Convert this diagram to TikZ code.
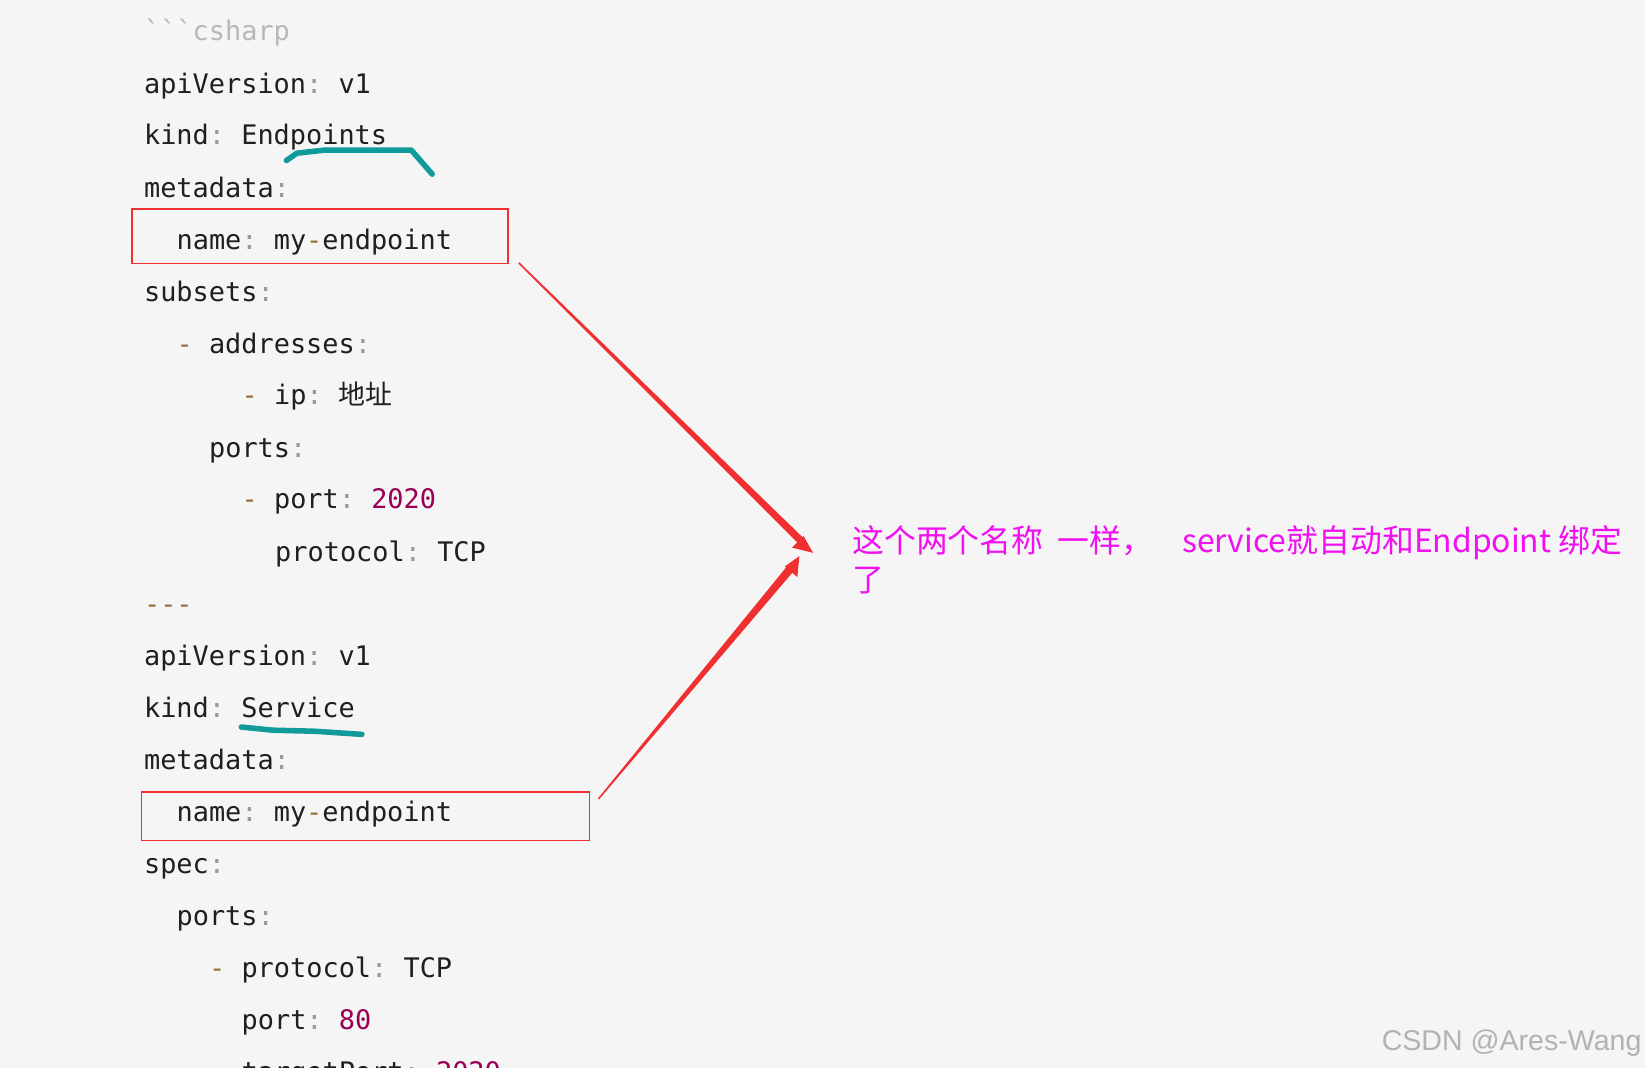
\documentclass[tikz,border=0pt]{standalone}
\usepackage{fontspec}
\setmonofont{DejaVu Sans Mono}
\newfontfamily\cjk{Noto Sans CJK SC}
\newfontfamily\wm{Liberation Sans}
\definecolor{bg}{HTML}{F5F5F5}
\definecolor{tx}{HTML}{1F1F1F}
\definecolor{pu}{HTML}{999999}
\definecolor{da}{HTML}{9A6E3A}
\definecolor{nu}{HTML}{990055}
\definecolor{mg}{HTML}{F010F0}
\definecolor{rd}{HTML}{F03030}
\definecolor{tl}{HTML}{109A9A}
\newcommand{\C}{\textcolor{pu}{:}}
\newcommand{\D}{\textcolor{da}{-}}
\begin{document}
\begin{tikzpicture}[x=0.02cm,y=-0.02cm,
  code/.style={anchor=base west,inner sep=0,font=\ttfamily\fontsize{14.6}{16}\selectfont,text=tx},
  redbox/.style={draw=rd,line width=0.8pt},
  teal/.style={draw=tl,line width=3pt,line cap=round,line join=round}]
\fill[bg] (0,0) rectangle (1568,1018);
\clip (0,0) rectangle (1568,1018);
\node[code,text=pu!70] (l0) at (137,39) {```csharp};
\node[code] (l1) at (137,89) {apiVersion\C{} v1};
\node[code] (l2) at (137,138) {kind\C{} Endpoints};
\node[code] (l3) at (137,188) {metadata\C};
\node[code] (l4) at (168,238) {name\C{} my\D{}endpoint};
\node[code] (l5) at (137,287) {subsets\C};
\node[code] (l6) at (168,337) {\D{} addresses\C};
\node[code] (l7) at (230,386) {\D{} ip\C{} {\cjk 地址}};
\node[code] (l8) at (199,436) {ports\C};
\node[code] (l9) at (230,485) {\D{} port\C{} \textcolor{nu}{2020}};
\node[code] (l10) at (262,535) {protocol\C{} TCP};
\node[code,text=da] (l11) at (137,585) {---};
\node[code] (l12) at (137,634) {apiVersion\C{} v1};
\node[code] (l13) at (137,684) {kind\C{} Service};
\node[code] (l14) at (137,733) {metadata\C};
\node[code] (l15) at (168,783) {name\C{} my\D{}endpoint};
\node[code] (l16) at (137,833) {spec\C};
\node[code] (l17) at (168,882) {ports\C};
\node[code] (l18) at (199,932) {\D{} protocol\C{} TCP};
\node[code] (l19) at (230,981) {port\C{} \textcolor{nu}{80}};
\node[code] (l20) at (230,1031) {targetPort\C{} \textcolor{nu}{2020}};
\draw[redbox] (126,199) rectangle (484,251);
\draw[redbox] (135,755) rectangle (562,801);
\draw[teal] (273,153) -- (283,146) -- (310,143) -- (392,143) -- (412,166);
\draw[teal] (230,693) -- (260,696) -- (300,697) -- (345,700);
\fill[rd] (494,251) -- (495,250) -- (768,515) -- (763,520) -- cycle;
\fill[rd] (775,527) -- (755,522) -- (766,511) -- cycle;
\fill[rd] (571,762) -- (570,761) -- (750,540) -- (756,545) -- cycle;
\fill[rd] (762,530) -- (760,550) -- (748,540) -- cycle;
\node[anchor=base west,inner sep=0,text=mg,font=\cjk\fontsize{17.3}{20}\selectfont] (t1) at (812,527) {这个两个名称\ \ 一样，\ \ \ \ service就自动和Endpoint 绑定};
\node[anchor=base west,inner sep=0,text=mg,font=\cjk\fontsize{17.3}{20}\selectfont] (t2) at (812,564) {了};
\node[anchor=base east,inner sep=0,text=gray!60,font=\wm\fontsize{15.5}{18}\selectfont] (wm) at (1565,1001) {CSDN @Ares-Wang};
\end{tikzpicture}
\end{document}
